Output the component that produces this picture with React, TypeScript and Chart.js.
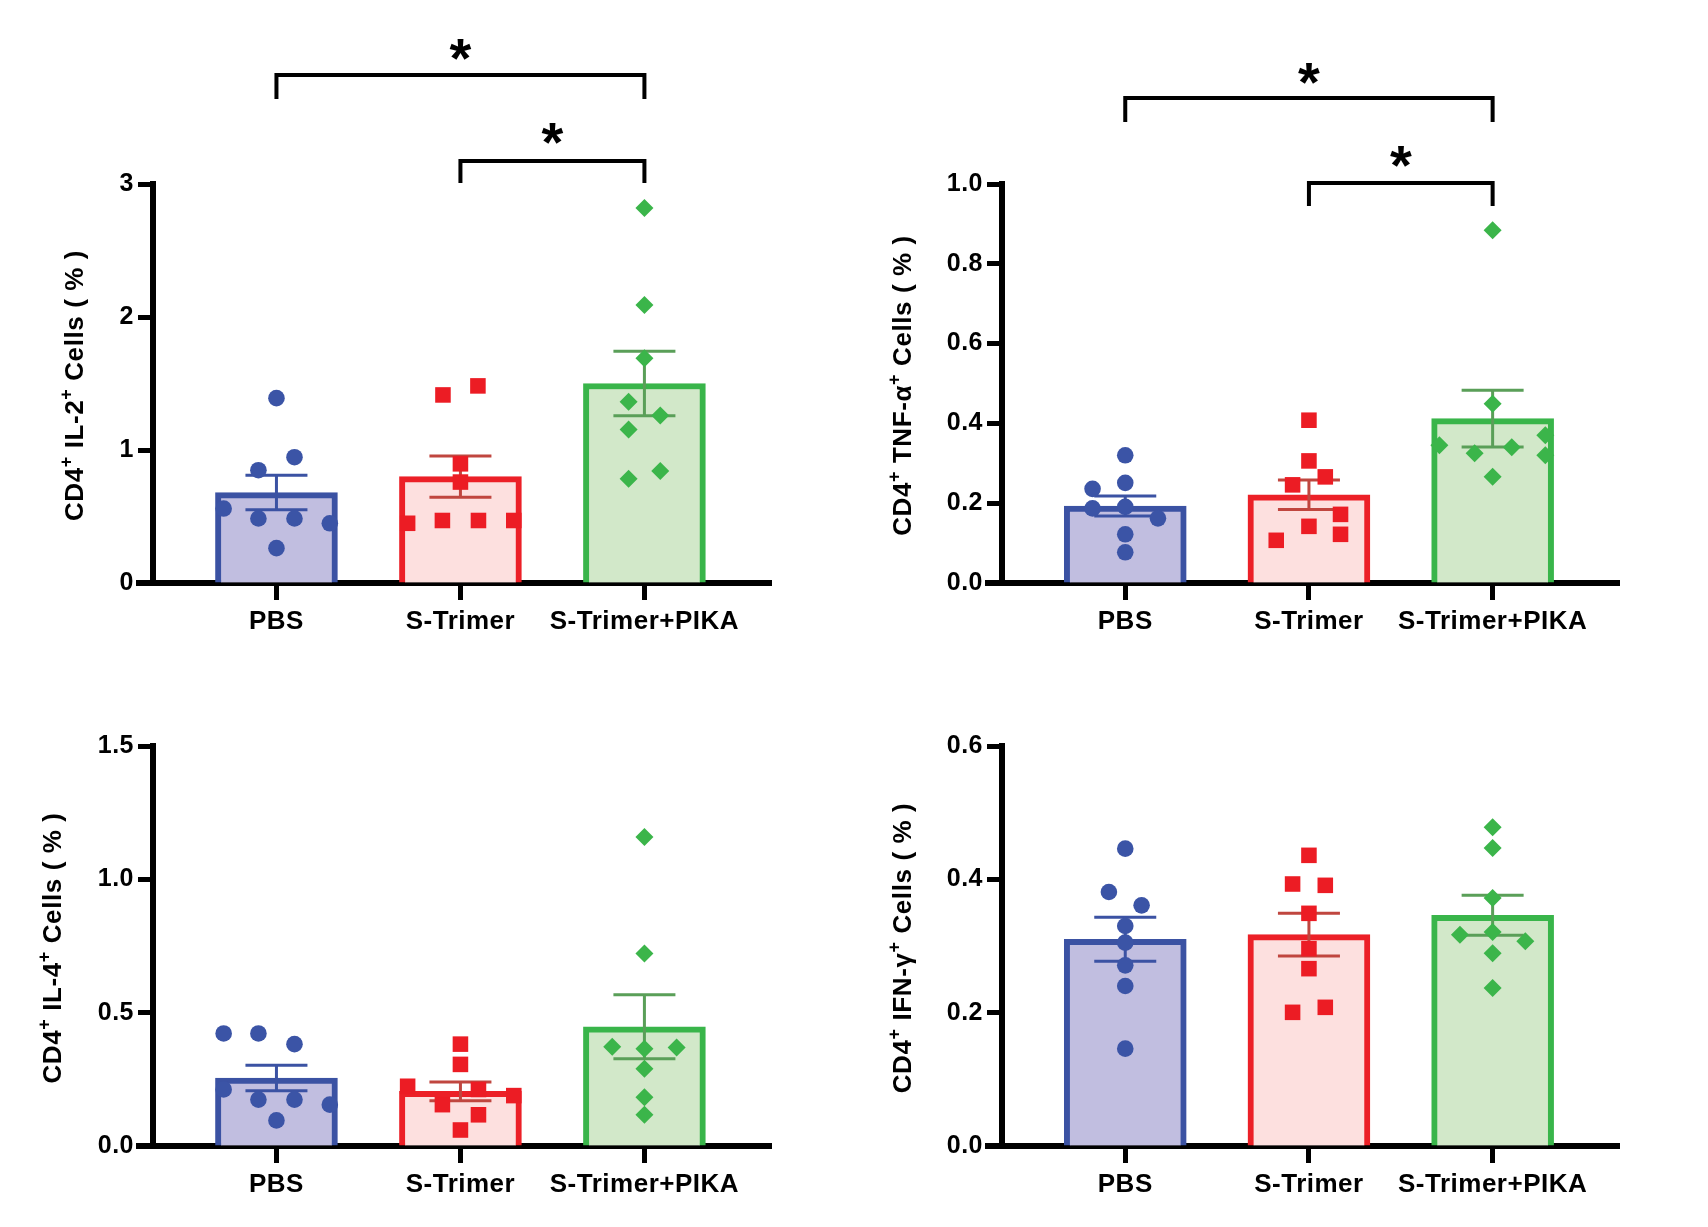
import React, { useEffect, useRef } from "react";
import { Chart, registerables } from "chart.js";

Chart.register(...registerables);

const FONT = "'Liberation Sans', Arial, Helvetica, sans-serif";

// ---------- categories ----------
const groups = ["PBS", "S-Trimer", "S-Trimer+PIKA"];
const groupBorder = ["#3b52a3", "#ec2027", "#39b54a"];
const groupFill = ["#c1bee0", "#fde0df", "#d2e8c9"];
const groupPoint = ["#3b54a6", "#ec1c24", "#3bb54a"];
const groupErr = ["#3b52a3", "#c0463f", "#5a9f58"];
const groupShape = ["circle", "rect", "rectRot"];

// ---------- IL-2 ----------
const il2Ticks = [0, 1, 2, 3];
const il2Means = [0.68, 0.8, 1.5];
const il2Sem = [0.13, 0.155, 0.243];
const il2PBS = [1.39, 0.946, 0.848, 0.56, 0.485, 0.485, 0.449, 0.262];
const il2PBSJit = [0, 0.098, -0.098, -0.287, -0.098, 0.098, 0.29, 0];
const il2ST = [1.414, 1.482, 0.896, 0.759, 0.449, 0.47, 0.47, 0.47];
const il2STJit = [-0.095, 0.095, 0, 0, -0.287, -0.098, 0.098, 0.29];
const il2PK = [2.82, 2.09, 1.69, 1.363, 1.259, 1.155, 0.842, 0.783];
const il2PKJit = [0, 0, 0, -0.086, 0.086, -0.086, 0.086, -0.086];

// ---------- TNF-alpha ----------
const tnfTicks = [0, 0.2, 0.4, 0.6, 0.8, 1.0];
const tnfMeans = [0.193, 0.221, 0.412];
const tnfSem = [0.025, 0.037, 0.071];
const tnfPBS = [0.32, 0.236, 0.251, 0.187, 0.191, 0.162, 0.122, 0.077];
const tnfPBSJit = [0, -0.178, 0, -0.178, 0, 0.178, 0, 0];
const tnfST = [0.408, 0.306, 0.266, 0.246, 0.172, 0.142, 0.107, 0.122];
const tnfSTJit = [0, 0, 0.089, -0.089, 0.172, 0, -0.178, 0.172];
const tnfPK = [0.884, 0.449, 0.345, 0.37, 0.325, 0.34, 0.32, 0.266];
const tnfPKJit = [0, 0, -0.29, 0.287, -0.098, 0.104, 0.287, 0];

// ---------- IL-4 ----------
const il4Ticks = [0, 0.5, 1.0, 1.5];
const il4Means = [0.255, 0.205, 0.447];
const il4Sem = [0.048, 0.035, 0.12];
const il4PBS = [0.422, 0.422, 0.382, 0.212, 0.174, 0.174, 0.155, 0.096];
const il4PBSJit = [-0.287, -0.098, 0.098, -0.287, -0.098, 0.098, 0.29, 0];
const il4ST = [0.382, 0.306, 0.224, 0.212, 0.189, 0.155, 0.117, 0.06];
const il4STJit = [0, 0, -0.287, 0.098, 0.29, -0.098, 0.098, 0];
const il4PK = [1.159, 0.722, 0.372, 0.365, 0.369, 0.29, 0.183, 0.117];
const il4PKJit = [0, 0, -0.175, 0, 0.175, 0, 0, 0];

// ---------- IFN-gamma ----------
const ifnTicks = [0, 0.2, 0.4, 0.6];
const ifnMeans = [0.31, 0.317, 0.346];
const ifnSem = [0.033, 0.032, 0.03];
const ifnPBS = [0.446, 0.381, 0.361, 0.33, 0.305, 0.271, 0.24, 0.146];
const ifnPBSJit = [0, -0.089, 0.089, 0, 0, 0, 0, 0];
const ifnST = [0.436, 0.393, 0.391, 0.349, 0.296, 0.266, 0.2005, 0.208];
const ifnSTJit = [0, -0.089, 0.089, 0, 0, 0, -0.089, 0.089];
const ifnPK = [0.478, 0.447, 0.372, 0.317, 0.321, 0.307, 0.289, 0.237];
const ifnPKJit = [0, 0, 0, -0.178, 0, 0.178, 0, 0];

// significance brackets (group a to group b, in axis units)
const il2Brackets = [
  { a: 1, b: 3, bar: 3.82, leg: 3.64, star: 4.008 },
  { a: 2, b: 3, bar: 3.173, leg: 3.008, star: 3.376 },
];
const tnfBrackets = [
  { a: 1, b: 3, bar: 1.2155, leg: 1.1554, star: 1.278 },
  { a: 2, b: 3, bar: 1.0025, leg: 0.945, star: 1.0677 },
];

type Seg = { t: string; sup?: boolean };

const decorPlugin = {
  id: "decor",
  beforeDraw(chart: any) {
    (chart.ctx as any).letterSpacing = "0.5px";
  },
  afterDatasetDraw(chart: any, args: any, opts: any) {
    if (args.index !== 0) return;
    const ctx = chart.ctx;
    const xs = chart.scales.x;
    const ys = chart.scales.y;
    ctx.save();
    ctx.lineWidth = 3;
    ctx.lineCap = "butt";
    opts.means.forEach((m: number, i: number) => {
      const x = xs.getPixelForValue(i + 1);
      const yT = ys.getPixelForValue(m + opts.sems[i]);
      const yB = ys.getPixelForValue(m - opts.sems[i]);
      ctx.strokeStyle = groupErr[i];
      ctx.beginPath();
      ctx.moveTo(x, yT);
      ctx.lineTo(x, yB);
      ctx.moveTo(x - 31, yT);
      ctx.lineTo(x + 31, yT);
      ctx.moveTo(x - 31, yB);
      ctx.lineTo(x + 31, yB);
      ctx.stroke();
    });
    ctx.restore();
  },
  afterDraw(chart: any, _args: any, opts: any) {
    const ctx = chart.ctx;
    const xs = chart.scales.x;
    const ys = chart.scales.y;
    const ca = chart.chartArea;
    ctx.save();
    // x axis extension to the left of the y axis
    ctx.fillStyle = "#000";
    ctx.fillRect(ca.left - 17, ca.bottom - 3, 18, 6);

    // brackets
    ctx.strokeStyle = "#000";
    ctx.lineWidth = 4;
    ctx.lineJoin = "miter";
    ctx.lineCap = "butt";
    (opts.brackets || []).forEach((b: any) => {
      const xa = xs.getPixelForValue(b.a);
      const xb = xs.getPixelForValue(b.b);
      const yBar = ys.getPixelForValue(b.bar);
      const yLeg = ys.getPixelForValue(b.leg);
      ctx.beginPath();
      ctx.moveTo(xa, yLeg);
      ctx.lineTo(xa, yBar);
      ctx.lineTo(xb, yBar);
      ctx.lineTo(xb, yLeg);
      ctx.stroke();
      const ys2 = ys.getPixelForValue(b.star);
      ctx.letterSpacing = "0px";
      ctx.font = `bold 56px ${FONT}`;
      ctx.textAlign = "center";
      ctx.textBaseline = "alphabetic";
      const mt = ctx.measureText("*");
      const off = (mt.actualBoundingBoxAscent - mt.actualBoundingBoxDescent) / 2;
      ctx.fillText("*", (xa + xb) / 2, ys2 + off);
    });

    // rotated y title with superscripts
    const segs: Seg[] = opts.title;
    const size = 26;
    const supSize = 18;
    ctx.letterSpacing = "0.6px";
    let total = 0;
    const widths = segs.map((s) => {
      ctx.font = `bold ${s.sup ? supSize : size}px ${FONT}`;
      const w = ctx.measureText(s.t).width;
      total += w;
      return w;
    });
    ctx.translate(opts.titleX, (ca.top + ca.bottom) / 2 + 2);
    ctx.rotate(-Math.PI / 2);
    ctx.textAlign = "left";
    ctx.textBaseline = "alphabetic";
    ctx.fillStyle = "#000";
    let x = -total / 2;
    const base = size * 0.716 * 0.5;
    segs.forEach((s, i) => {
      ctx.font = `bold ${s.sup ? supSize : size}px ${FONT}`;
      ctx.fillText(s.t, x, s.sup ? base - size * 0.45 : base);
      x += widths[i];
    });
    ctx.restore();
  },
};

type PanelDef = {
  ticks: number[];
  decimals: number;
  means: number[];
  sems: number[];
  pts: number[][];
  jit: number[][];
  title: Seg[];
  titleX: number;
  brackets: any[];
};

const panels: PanelDef[] = [
  {
    ticks: il2Ticks,
    decimals: 0,
    means: il2Means,
    sems: il2Sem,
    pts: [il2PBS, il2ST, il2PK],
    jit: [il2PBSJit, il2STJit, il2PKJit],
    title: [
      { t: "CD4" },
      { t: "+", sup: true },
      { t: " IL-2" },
      { t: "+", sup: true },
      { t: " Cells ( % )" },
    ],
    titleX: 74,
    brackets: il2Brackets,
  },
  {
    ticks: tnfTicks,
    decimals: 1,
    means: tnfMeans,
    sems: tnfSem,
    pts: [tnfPBS, tnfST, tnfPK],
    jit: [tnfPBSJit, tnfSTJit, tnfPKJit],
    title: [
      { t: "CD4" },
      { t: "+", sup: true },
      { t: " TNF-α" },
      { t: "+", sup: true },
      { t: " Cells ( % )" },
    ],
    titleX: 52,
    brackets: tnfBrackets,
  },
  {
    ticks: il4Ticks,
    decimals: 1,
    means: il4Means,
    sems: il4Sem,
    pts: [il4PBS, il4ST, il4PK],
    jit: [il4PBSJit, il4STJit, il4PKJit],
    title: [
      { t: "CD4" },
      { t: "+", sup: true },
      { t: " IL-4" },
      { t: "+", sup: true },
      { t: " Cells ( % )" },
    ],
    titleX: 52,
    brackets: [],
  },
  {
    ticks: ifnTicks,
    decimals: 1,
    means: ifnMeans,
    sems: ifnSem,
    pts: [ifnPBS, ifnST, ifnPK],
    jit: [ifnPBSJit, ifnSTJit, ifnPKJit],
    title: [
      { t: "CD4" },
      { t: "+", sup: true },
      { t: " IFN-γ" },
      { t: "+", sup: true },
      { t: " Cells ( % )" },
    ],
    titleX: 52,
    brackets: [],
  },
];

type Box = { left: number; top: number; width: number; height: number; yWidth: number; padRight: number; padTop: number; padBottom: number };

const boxes: Box[] = [
  { left: 0, top: 0, width: 850, height: 650, yWidth: 153, padRight: 79, padTop: 184, padBottom: 17 },
  { left: 850, top: 0, width: 858, height: 650, yWidth: 152, padRight: 89, padTop: 184, padBottom: 17 },
  { left: 0, top: 650, width: 850, height: 577, yWidth: 153, padRight: 79, padTop: 96, padBottom: 31 },
  { left: 850, top: 650, width: 858, height: 577, yWidth: 152, padRight: 89, padTop: 96, padBottom: 31 },
];

function makeConfig(p: PanelDef, b: Box): any {
  const yMax = p.ticks[p.ticks.length - 1];
  const datasets: any[] = [
    {
      type: "bar",
      order: 2,
      data: p.means.map((m, i) => ({ x: i + 1, y: m })),
      backgroundColor: groupFill,
      borderColor: groupBorder,
      borderWidth: 6,
      borderSkipped: "start",
      barThickness: 122,
    },
  ];
  p.pts.forEach((vals, g) => {
    datasets.push({
      type: "scatter",
      order: 1,
      data: vals.map((v, k) => ({ x: g + 1 + p.jit[g][k], y: v })),
      pointStyle: groupShape[g],
      pointRadius: g === 1 ? 11 : g === 2 ? 9 : 8.3,
      backgroundColor: groupPoint[g],
      borderColor: groupPoint[g],
      borderWidth: 0,
      showLine: false,
    });
  });
  return {
    type: "bar",
    data: { datasets },
    plugins: [decorPlugin],
    options: {
      animation: false,
      responsive: true,
      maintainAspectRatio: false,
      devicePixelRatio: 1,
      events: [],
      layout: { padding: { left: 0, right: b.padRight, top: b.padTop, bottom: b.padBottom } },
      plugins: {
        legend: { display: false },
        tooltip: { enabled: false },
        title: { display: false },
        decor: {
          means: p.means,
          sems: p.sems,
          brackets: p.brackets,
          title: p.title,
          titleX: p.titleX,
        },
      },
      scales: {
        x: {
          type: "linear",
          min: 0.329,
          max: 3.688,
          offset: false,
          afterBuildTicks: (s: any) => {
            s.ticks = [1, 2, 3].map((v) => ({ value: v }));
          },
          afterFit: (s: any) => {
            s.height = 50;
          },
          grid: {
            display: true,
            drawOnChartArea: false,
            drawTicks: true,
            tickLength: 17,
            tickWidth: 5,
            tickColor: "#000",
            color: "#000",
            offset: false,
          },
          border: { display: true, color: "#000", width: 6 },
          ticks: {
            autoSkip: false,
            maxRotation: 0,
            minRotation: 0,
            padding: 6,
            color: "#000",
            font: { family: FONT, size: 26, weight: "bold" },
            callback: (v: number) => groups[Math.round(v) - 1],
          },
        },
        y: {
          type: "linear",
          min: 0,
          max: yMax,
          afterBuildTicks: (s: any) => {
            s.ticks = p.ticks.map((v) => ({ value: v }));
          },
          afterFit: (s: any) => {
            s.width = b.yWidth;
          },
          grid: {
            display: true,
            drawOnChartArea: false,
            drawTicks: true,
            tickLength: 15,
            tickWidth: 5,
            tickColor: "#000",
            color: "#000",
          },
          border: { display: true, color: "#000", width: 6 },
          ticks: {
            padding: 4,
            color: "#000",
            font: { family: FONT, size: 25, weight: "bold" },
            callback: (v: number) => Number(v).toFixed(p.decimals),
          },
        },
      },
    },
  };
}

function Panel({ p, b }: { p: PanelDef; b: Box }) {
  const ref = useRef<HTMLCanvasElement>(null);
  useEffect(() => {
    const chart = new Chart(ref.current as HTMLCanvasElement, makeConfig(p, b));
    return () => chart.destroy();
  }, []);
  return (
    <div style={{ position: "absolute", left: b.left, top: b.top, width: b.width, height: b.height }}>
      <canvas ref={ref} />
    </div>
  );
}

export default function App() {
  return (
    <div style={{ position: "absolute", left: 0, top: 0, width: 1708, height: 1227, background: "#fff", overflow: "hidden" }}>
      {panels.map((p, i) => (
        <Panel key={i} p={p} b={boxes[i]} />
      ))}
    </div>
  );
}
